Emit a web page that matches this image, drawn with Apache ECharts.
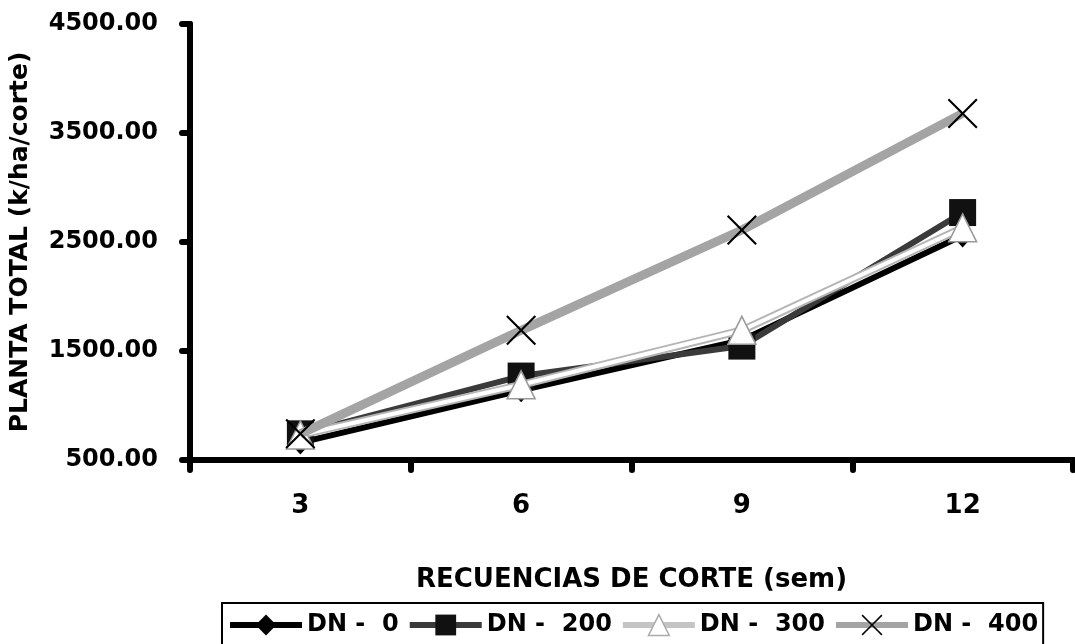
<!DOCTYPE html>
<html>
<head>
<meta charset="utf-8">
<script src="https://cdn.jsdelivr.net/npm/echarts@6/dist/echarts.min.js"></script>
<style>html,body{margin:0;padding:0;background:#fff}#c{width:1075px;height:644px}</style>
</head>
<body>
<div id="c"></div>
<script>
const categories = ['3', '6', '9', '12'];
const dn0 = [660, 1140, 1600, 2560];
const dn200 = [740, 1270, 1545, 2770];
const dn300 = [730, 1190, 1690, 2630];
const dn400 = [740, 1690, 2610, 3680];
const seriesNames = ['DN -  0', 'DN -  200', 'DN -  300', 'DN -  400'];
const yMin = 500, yMax = 4500, yStep = 1000;

const FONT = 'DejaVu Sans';
const xShape = 'path://M0,1.5 L1.5,0 L15,13.5 L28.5,0 L30,1.5 L16.5,15 L30,28.5 L28.5,30 L15,16.5 L1.5,30 L0,28.5 L13.5,15 Z';

const chart = echarts.init(document.getElementById('c'), null, {renderer: 'canvas'});
chart.setOption({
  animation: false,
  backgroundColor: '#fff',
  grid: {left: 190, right: 2, top: 24, bottom: 184, containLabel: false},
  xAxis: {
    type: 'category',
    data: categories,
    boundaryGap: true,
    name: 'RECUENCIAS DE CORTE (sem)',
    nameLocation: 'middle',
    nameGap: 107,
    nameTextStyle: {fontFamily: FONT, fontWeight: 'bold', fontSize: 26, color: '#000'},
    axisLine: {lineStyle: {color: '#000', width: 6, cap: 'round'}},
    axisTick: {show: true, length: 10, lineStyle: {color: '#000', width: 6, cap: 'round'}},
    axisLabel: {fontFamily: FONT, fontWeight: 'bold', fontSize: 26, color: '#000', margin: 33},
    splitLine: {show: false}
  },
  yAxis: {
    type: 'value',
    min: yMin, max: yMax, interval: yStep,
    name: 'PLANTA TOTAL (k/ha/corte)',
    nameLocation: 'middle',
    nameGap: 157,
    nameTextStyle: {fontFamily: FONT, fontWeight: 'bold', fontSize: 25, color: '#000'},
    axisLine: {show: true, lineStyle: {color: '#000', width: 6, cap: 'round'}},
    axisTick: {show: true, length: 8, lineStyle: {color: '#000', width: 6, cap: 'round'}},
    axisLabel: {fontFamily: FONT, fontWeight: 'bold', fontSize: 24, color: '#000', margin: 32,
      formatter: v => v.toFixed(2)},
    splitLine: {show: false}
  },
  legend: {
    data: [
      {name: seriesNames[0]},
      {name: seriesNames[1]},
      {name: seriesNames[2], lineStyle: {color: '#c4c4c4', width: 6}, itemStyle: {color: '#fff', borderColor: '#aaa', borderWidth: 1.5}},
      {name: seriesNames[3]}
    ],
    left: 222, top: 603,
    padding: [10, 5, 30, 5],
    itemWidth: 72, itemHeight: 26, itemGap: 8,
    lineStyle: {width: 6},
    borderColor: '#000', borderWidth: 2, borderRadius: 0,
    textStyle: {fontFamily: FONT, fontWeight: 'bold', fontSize: 24, color: '#000'},
    selectedMode: false
  },
  series: [
    {
      name: seriesNames[0], type: 'line', data: dn0,
      symbol: 'diamond', symbolSize: [22, 24],
      lineStyle: {color: '#000', width: 6},
      itemStyle: {color: '#000'},
      z: 2
    },
    {
      name: seriesNames[1], type: 'line', data: dn200,
      symbol: 'rect', symbolSize: 27,
      lineStyle: {color: '#3a3a3a', width: 6},
      itemStyle: {color: '#111'},
      z: 3
    },
    {
      name: 'outline300', type: 'line', data: dn300,
      symbol: 'none',
      lineStyle: {color: '#b5b5b5', width: 8},
      z: 4, silent: true
    },
    {
      name: seriesNames[2], type: 'line', data: dn300,
      symbol: 'triangle', symbolSize: [28, 28],
      lineStyle: {color: '#fff', width: 4},
      itemStyle: {color: '#fff', borderColor: '#999', borderWidth: 1.5},
      z: 5
    },
    {
      name: seriesNames[3], type: 'line', data: dn400,
      symbol: xShape, symbolSize: 30,
      lineStyle: {color: '#a4a4a4', width: 9},
      itemStyle: {color: '#000'},
      z: 6
    }
  ]
});
</script>
</body>
</html>
